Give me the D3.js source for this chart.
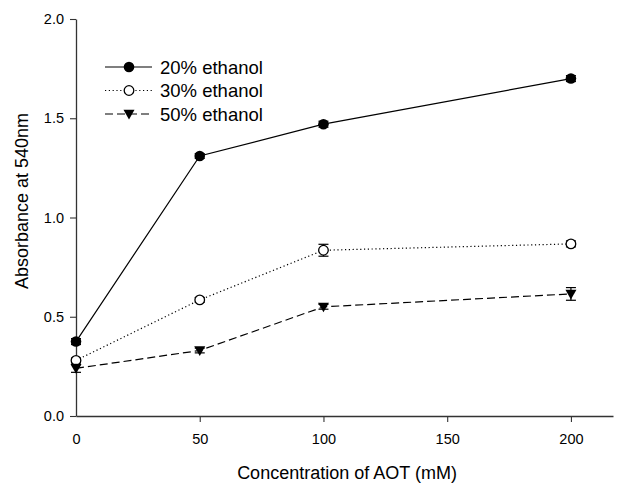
<!DOCTYPE html>
<html><head><meta charset="utf-8">
<script src="https://cdn.jsdelivr.net/npm/d3@7"></script>
<style>body{margin:0;background:#fff}svg{display:block}text{font-family:"Liberation Sans",Arial,sans-serif;fill:#000}</style>
</head><body><svg id="c" width="637" height="483"></svg>
<script>
const concentrations = [0, 50, 100, 200];
const seriesNames = ["20% ethanol", "30% ethanol", "50% ethanol"];
const ethanol20 = [0.375, 1.31, 1.47, 1.70];
const ethanol20Err = [0.015, 0.012, 0.015, 0.015];
const ethanol30 = [0.28, 0.585, 0.835, 0.867];
const ethanol30Err = [0.012, 0.012, 0.03, 0.015];
const ethanol50 = [0.24, 0.33, 0.55, 0.615];
const ethanol50Err = [0.02, 0.012, 0.012, 0.032];
const xTicks = [0, 50, 100, 150, 200];
const yTicks = [0, 0.5, 1.0, 1.5, 2.0];

const svg = d3.select("#c");
const x = d3.scaleLinear().domain([0, 217]).range([76, 613]);
const y = d3.scaleLinear().domain([0, 2]).range([416, 19]);

const series = [
  {name: seriesNames[0], vals: ethanol20, err: ethanol20Err, dash: null, marker: "filled"},
  {name: seriesNames[1], vals: ethanol30, err: ethanol30Err, dash: "1.2,2.6", marker: "open"},
  {name: seriesNames[2], vals: ethanol50, err: ethanol50Err, dash: "8,4", marker: "tri"}
];

// axes
const xAxis = svg.append("g").attr("transform", `translate(0,${y(0)})`)
  .call(d3.axisBottom(x).tickValues(xTicks).tickSize(6).tickPadding(12).tickSizeOuter(0).tickFormat(d3.format("d")));
const yAxis = svg.append("g").attr("transform", `translate(${x(0)},0)`)
  .call(d3.axisLeft(y).tickValues(yTicks).tickSize(6).tickPadding(6).tickSizeOuter(0).tickFormat(d3.format(".1f")));
[xAxis, yAxis].forEach(a => {
  a.select(".domain").attr("stroke", "#333").attr("stroke-width", 1.3);
  a.selectAll(".tick line").attr("stroke", "#333").attr("stroke-width", 1.1);
  a.selectAll("text").style("font-size", "14.5px").attr("fill", "#000");
});
xAxis.selectAll(".tick").filter(d => d === 0).select("line").remove();

svg.append("text").attr("x", 347).attr("y", 479).attr("text-anchor", "middle")
  .style("font-size", "18px").text("Concentration of AOT (mM)");
svg.append("text").attr("transform", "translate(28,201) rotate(-90)").attr("text-anchor", "middle")
  .style("font-size", "18px").text("Absorbance at 540nm");

function drawMarker(g, type, cx, cy) {
  if (type === "filled") g.append("circle").attr("cx", cx).attr("cy", cy).attr("r", 5.3).attr("fill", "#000");
  else if (type === "open") g.append("circle").attr("cx", cx).attr("cy", cy).attr("r", 4.8).attr("fill", "#fff").attr("stroke", "#000").attr("stroke-width", 1.3);
  else g.append("path").attr("transform", `translate(${cx},${cy})`).attr("d", "M-5.5,-4.2L5.5,-4.2L0,5.5Z").attr("fill", "#000");
}

const line = d3.line().x((d, i) => x(concentrations[i])).y(d => y(d));
series.forEach(s => {
  svg.append("path").attr("d", line(s.vals)).attr("fill", "none").attr("stroke", "#000")
    .attr("stroke-width", 1.2).attr("stroke-dasharray", s.dash);
});
series.forEach(s => {
  const g = svg.append("g");
  s.vals.forEach((v, i) => {
    const cx = x(concentrations[i]);
    const y1 = y(v + s.err[i]), y2 = y(v - s.err[i]);
    g.append("line").attr("x1", cx).attr("x2", cx).attr("y1", y1).attr("y2", y2).attr("stroke", "#000").attr("stroke-width", 1.2);
    [y1, y2].forEach(yy => g.append("line").attr("x1", cx - 5).attr("x2", cx + 5).attr("y1", yy).attr("y2", yy).attr("stroke", "#000").attr("stroke-width", 1.2));
    drawMarker(g, s.marker, cx, y(v));
  });
});

// legend
const legY = [67, 90.5, 114];
series.forEach((s, i) => {
  const g = svg.append("g");
  g.append("line").attr("x1", 105).attr("x2", 152).attr("y1", legY[i]).attr("y2", legY[i])
    .attr("stroke", "#000").attr("stroke-width", 1.2).attr("stroke-dasharray", s.dash);
  drawMarker(g, s.marker, 129, legY[i]);
  g.append("text").attr("x", 160).attr("y", legY[i] + 6.5).style("font-size", "18.5px").text(s.name);
});
</script></body></html>
